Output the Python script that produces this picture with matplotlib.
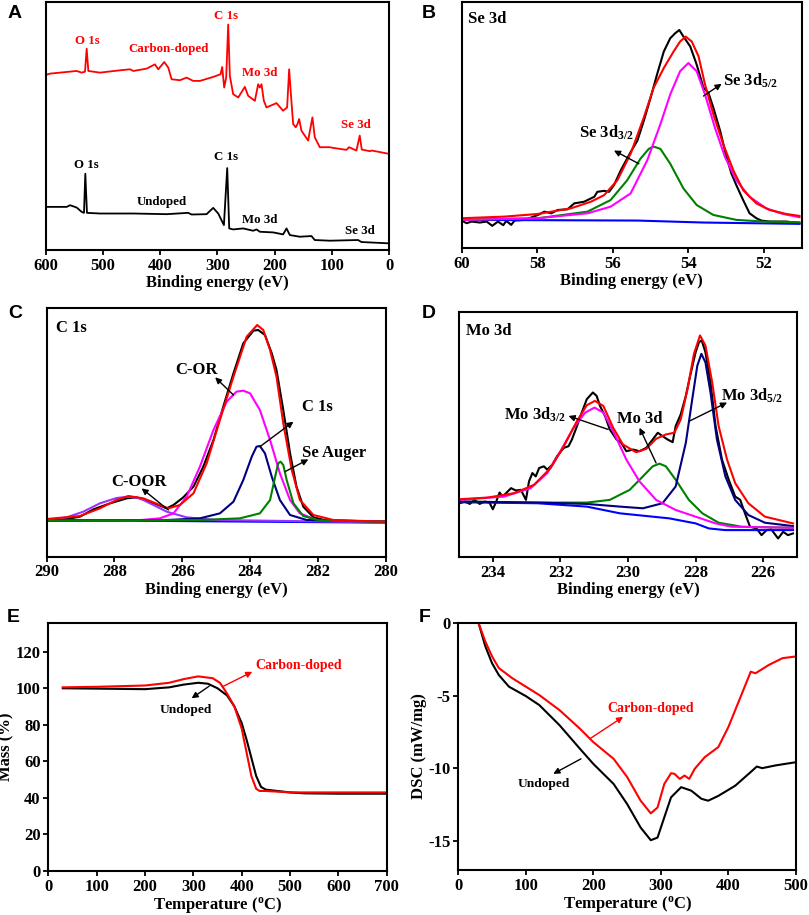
import matplotlib
matplotlib.use("Agg")
import matplotlib.pyplot as plt

plt.rcParams['font.family'] = ['Liberation Serif', 'DejaVu Serif']
plt.rcParams['font.weight'] = 'bold'
plt.rcParams['mathtext.fontset'] = 'custom'
plt.rcParams['mathtext.rm'] = 'Liberation Serif:bold'
plt.rcParams['mathtext.it'] = 'Liberation Serif:bold'
plt.rcParams['mathtext.bf'] = 'Liberation Serif:bold'
plt.rcParams['mathtext.default'] = 'rm'

# ---------------- A: survey spectra ----------------
a_red_x = [600.0, 592.4, 563.3, 545.9, 537.2, 531.3, 528.4, 525.5, 505.1, 470.2, 452.8, 446.9, 423.7,
           409.1, 403.3, 392.8, 385.8, 380.0, 365.5, 353.8, 342.2, 330.6, 307.3, 294.5, 291.6, 288.1,
           284.6, 281.1, 278.2, 272.4, 263.6, 252.0, 246.2, 234.5, 228.7, 225.8, 222.9, 218.8, 214.2,
           196.7, 185.1, 178.1, 174.6, 171.1, 167.6, 163.0, 160.0, 157.1, 153.1, 141.4, 133.9, 129.8,
           121.0, 103.6, 97.8, 74.5, 69.8, 57.0, 51.2, 47.7, 33.8, 30.3, 0.0]
a_red_y = [528, 532, 537, 540, 535, 538, 607, 540, 535, 542, 545, 540, 547,
           560, 545, 567, 550, 515, 512, 520, 510, 510, 522, 530, 552, 490,
           520, 680, 525, 470, 460, 492, 465, 450, 500, 490, 500, 450, 430,
           443, 420, 430, 545, 460, 380, 370, 380, 395, 360, 330, 400, 340,
           310, 310, 308, 302, 310, 300, 345, 303, 298, 300, 290]
a_blk_x = [600.0, 563.3, 557.5, 545.9, 537.2, 533.1, 530.8, 527.9, 505.1, 446.9, 388.7, 350.9, 345.1,
           318.9, 307.3, 298.5, 288.6, 282.8, 279.3, 272.4, 254.9, 237.4, 231.6, 225.8, 202.5, 185.1,
           179.2, 173.4, 156.0, 135.6, 129.8, 103.6, 54.1, 48.3, 0.0]
a_blk_y = [130, 130, 135, 128, 115, 112, 230, 112, 110, 110, 108, 112, 107,
           108, 127, 110, 75, 247, 65, 62, 65, 58, 62, 55, 53, 47,
           65, 45, 40, 42, 30, 28, 30, 24, 20]
a_red_labels = ['O 1s', 'Carbon-doped', 'C 1s', 'Mo 3d', 'Se 3d']
a_red_lab_x = [527.3, 385.8, 284.0, 225.8, 58.2]
a_red_lab_y = [630, 605, 705, 535, 378]
a_blk_labels = ['O 1s', 'C 1s', 'Undoped', 'Mo 3d', 'Se 3d']
a_blk_lab_x = [529.6, 284.0, 397.5, 225.8, 51.2]
a_blk_lab_y = [255, 280, 145, 90, 58]

# ---------------- B: Se 3d ----------------
b_raw_x = [60.00, 59.87, 59.74, 59.52, 59.34, 59.19, 59.04, 58.90, 58.82, 58.69, 58.60, 58.33, 57.98,
           57.81, 57.63, 57.46, 57.20, 57.02, 56.76, 56.49, 56.41, 56.23, 56.10, 55.97, 55.79, 55.53,
           55.35, 55.18, 55.00, 54.83, 54.65, 54.48, 54.35, 54.24, 54.13, 53.95, 53.78, 53.60, 53.47,
           53.34, 53.16, 52.99, 52.86, 52.73, 52.55, 52.38, 52.20, 52.07, 51.85, 51.41, 51.06]
b_raw_y = [83, 75, 80, 77, 80, 67, 80, 69, 82, 70, 83, 85, 100,
           110, 105, 115, 117, 135, 140, 155, 170, 173, 170, 190, 235, 290,
           325, 385, 455, 525, 595, 635, 650, 660, 640, 610, 555, 485, 470,
           425, 355, 275, 225, 190, 145, 105, 90, 83, 80, 80, 75]
b_fit_x = [60.00, 58.86, 57.98, 57.11, 56.58, 56.23, 55.88, 55.53, 55.18, 54.92, 54.65, 54.39, 54.22,
           54.07, 53.91, 53.73, 53.56, 53.34, 53.08, 52.81, 52.55, 52.20, 51.85, 51.41, 51.06]
b_fit_y = [90, 95, 103, 120, 140, 160, 205, 285, 395, 485, 545, 595, 625,
           640, 625, 580, 495, 405, 315, 235, 175, 135, 115, 103, 97]
b_p52_x = [60.00, 57.98, 56.67, 56.06, 55.53, 55.09, 54.74, 54.48, 54.22, 54.00, 53.78, 53.56, 53.30,
           53.03, 52.73, 52.38, 51.94, 51.50, 51.06]
b_p52_y = [85, 90, 105, 125, 165, 265, 375, 465, 535, 560, 535, 465, 365,
           275, 205, 155, 120, 103, 93]
b_p32_x = [60.00, 57.98, 56.67, 56.06, 55.62, 55.27, 55.05, 54.92, 54.74, 54.48, 54.13, 53.78, 53.34,
           52.73, 52.02, 51.06]
b_p32_y = [85, 90, 110, 145, 205, 270, 300, 307, 300, 255, 180, 130, 100,
           85, 80, 78]
b_bg_x = [60.00, 55.35, 53.60, 51.06]
b_bg_y = [85, 83, 77, 73]

# ---------------- C: C 1s ----------------
c_raw_x = [290.00, 289.41, 289.02, 288.62, 288.13, 287.64, 287.35, 286.95, 286.46, 286.26, 285.97,
           285.67, 285.38, 285.08, 284.79, 284.49, 284.20, 283.90, 283.76, 283.56, 283.36, 283.22,
           283.02, 282.82, 282.63, 282.43, 282.13, 281.74, 280.00]
c_raw_y = [110, 113, 120, 142, 160, 175, 178, 165, 145, 155, 178,
           210, 270, 350, 450, 550, 640, 678, 680, 665, 610, 560,
           440, 310, 210, 150, 118, 108, 105]
c_fit_x = [290.00, 289.02, 288.43, 287.94, 287.59, 287.15, 286.66, 286.41, 286.07, 285.67, 285.28,
           284.89, 284.49, 284.10, 283.79, 283.61, 283.41, 283.22, 283.02, 282.77, 282.53, 282.13,
           281.54, 280.00]
c_fit_y = [113, 122, 145, 170, 182, 175, 155, 145, 155, 190, 280,
           410, 540, 660, 695, 680, 620, 540, 400, 260, 170, 125,
           110, 105]
c_cor_x = [290.00, 287.44, 286.66, 286.26, 285.87, 285.48, 285.08, 284.69, 284.40, 284.20, 284.00,
           283.71, 283.41, 283.12, 282.82, 282.53, 282.04, 280.00]
c_cor_y = [108, 108, 115, 130, 180, 270, 380, 465, 495, 498, 490,
           440, 350, 250, 170, 130, 110, 105]
c_coor_x = [290.00, 289.41, 288.92, 288.43, 287.94, 287.59, 287.25, 286.85, 286.46, 285.87, 284.99, 280.00]
c_coor_y = [110, 118, 135, 160, 176, 180, 175, 155, 135, 118, 110, 103]
c_c1s_x = [290.00, 286.46, 285.48, 284.89, 284.49, 284.20, 283.95, 283.81, 283.71, 283.56, 283.36,
           283.12, 282.82, 282.33, 280.00]
c_c1s_y = [108, 110, 115, 130, 165, 230, 300, 330, 332, 310, 240,
           170, 125, 110, 105]
c_aug_x = [290.00, 285.48, 284.30, 283.71, 283.41, 283.26, 283.17, 283.10, 283.02, 282.92, 282.72,
           282.43, 281.94, 280.00]
c_aug_y = [108, 110, 115, 130, 170, 240, 280, 285, 275, 230, 160,
           122, 108, 105]
c_bg_x = [290.00, 280.00]
c_bg_y = [110, 102]

# ---------------- D: Mo 3d ----------------
d_raw_x = [234.98, 234.83, 234.68, 234.54, 234.39, 234.24, 234.10, 234.00, 233.90, 233.80, 233.71,
           233.56, 233.46, 233.32, 233.17, 233.02, 232.93, 232.83, 232.73, 232.63, 232.49, 232.39,
           232.24, 232.10, 231.90, 231.76, 231.66, 231.51, 231.37, 231.22, 231.04, 230.93, 230.83,
           230.68, 230.54, 230.34, 230.20, 230.05, 229.85, 229.66, 229.46, 229.27, 229.12, 228.98,
           228.83, 228.68, 228.59, 228.44, 228.29, 228.15, 228.00, 227.90, 227.82, 227.71, 227.56,
           227.41, 227.22, 227.02, 226.83, 226.68, 226.54, 226.39, 226.20, 226.05, 225.90, 225.76,
           225.56, 225.41, 225.27, 225.12]
d_raw_y = [160, 165, 158, 170, 158, 165, 162, 142, 165, 192, 180,
           195, 205, 198, 200, 170, 225, 250, 240, 265, 270, 260,
           275, 300, 325, 330, 350, 390, 430, 470, 490, 480, 450,
           420, 380, 350, 340, 315, 320, 315, 325, 350, 370, 360,
           350, 342, 390, 425, 480, 545, 610, 640, 645, 610, 520,
           390, 290, 230, 180, 170, 130, 90, 85, 65, 80, 82,
           55, 75, 65, 70]
d_fit_x = [234.98, 234.15, 233.37, 232.78, 232.29, 231.90, 231.51, 231.22, 230.98, 230.73, 230.44,
           230.15, 229.76, 229.46, 229.17, 228.88, 228.63, 228.44, 228.24, 228.05, 227.87, 227.71,
           227.51, 227.32, 227.07, 226.83, 226.44, 225.95, 225.12]
d_fit_y = [172, 177, 190, 215, 265, 330, 405, 452, 465, 450, 385,
           335, 312, 322, 352, 365, 370, 410, 500, 605, 660, 630,
           520, 390, 290, 220, 160, 120, 100]
d_p32_x = [234.98, 233.66, 232.88, 232.39, 232.00, 231.61, 231.27, 230.99, 230.73, 230.44, 230.05,
           229.66, 229.17, 228.59, 228.00, 227.41, 226.93, 225.12]
d_p32_y = [170, 180, 205, 250, 315, 385, 430, 445, 430, 375, 290,
           225, 170, 140, 120, 100, 90, 87]
d_mid_x = [234.98, 232.68, 231.22, 230.54, 229.95, 229.56, 229.27, 229.07, 228.88, 228.59, 228.20,
           227.80, 227.32, 226.63, 225.12]
d_mid_y = [165, 162, 162, 170, 200, 240, 270, 278, 270, 230, 170,
           130, 102, 90, 87]
d_p52_x = [234.98, 232.68, 231.22, 230.24, 229.56, 228.98, 228.59, 228.29, 228.10, 227.95, 227.83,
           227.71, 227.56, 227.37, 227.12, 226.83, 226.44, 225.95, 225.12]
d_p52_y = [165, 162, 158, 150, 145, 160, 210, 340, 470, 570, 605,
           580, 490, 350, 240, 170, 125, 102, 92]
d_bg_x = [234.98, 232.68, 231.22, 230.24, 228.78, 228.00, 227.61, 227.12, 225.12]
d_bg_y = [163, 160, 150, 130, 115, 100, 85, 80, 80]

# ---------------- E: TGA ----------------
e_und_t = [30, 100, 200, 250, 280, 310, 330, 350, 370, 385, 400, 410, 420, 430, 440, 450, 500, 530, 600, 700]
e_und_m = [100, 99.8, 99.5, 100.5, 102, 103, 102.5, 100, 96, 90, 81, 72, 62, 52, 46, 44.5, 43, 42.5, 42.3, 42.3]
e_cd_t = [30, 100, 200, 250, 280, 310, 340, 355, 370, 385, 400, 410, 420, 430, 437, 450, 500, 600, 700]
e_cd_m = [100.5, 100.8, 101.5, 103, 105, 106.5, 105.5, 103, 97, 90, 78, 65, 52, 45, 43.8, 43.8, 43, 43, 43]

# ---------------- F: DSC ----------------
f_und_t = [30, 40, 50, 60, 75, 100, 120, 150, 180, 200, 230, 250, 270, 285, 295, 305, 315, 330,
           345, 360, 370, 385, 410, 430, 442, 450, 470, 500]
f_und_d = [0, -1.6, -2.77, -3.58, -4.38, -5.03, -5.65, -7.04, -8.65, -9.7, -11.08, -12.46, -14.08,
           -14.95, -14.77, -13.38, -12.0, -11.3, -11.54, -12.1, -12.23, -11.9, -11.2, -10.38, -9.88,
           -9.99, -9.8, -9.58]
f_cd_t = [30, 40, 50, 60, 80, 100, 120, 150, 180, 200, 230, 250, 270, 285, 295, 305, 315, 320, 328,
          335, 342, 350, 365, 385, 400, 420, 433, 440, 460, 480, 500]
f_cd_d = [0, -1.27, -2.3, -3.1, -3.8, -4.38, -4.96, -6.0, -7.27, -8.2, -9.35, -10.6, -12.23, -13.1,
          -12.7, -11.08, -10.34, -10.38, -10.73, -10.5, -10.73, -10.04, -9.23, -8.54, -7.15, -4.85,
          -3.35, -3.46, -2.88, -2.42, -2.3]

RED = '#ff0000'
MAG = '#ff00ff'
GRN = '#008000'
NAVY = '#000080'
BLUE = '#0000ff'
VIO = '#9933ff'
LW = 1.5


def style(ax, yticks=False):
    for s in ax.spines.values():
        s.set_linewidth(1.5)
    ax.tick_params(direction='out', length=3.5, width=1.3, pad=2, labelsize=12, top=False, right=False)
    if not yticks:
        ax.set_yticks([])
    for lab in ax.get_xticklabels() + ax.get_yticklabels():
        lab.set_fontweight('bold')


def arrow(ax, tail, head, color='black'):
    ax.annotate('', xy=head, xytext=tail,
                arrowprops=dict(arrowstyle='-|>', color=color, lw=1.0, mutation_scale=9,
                                shrinkA=0, shrinkB=0))


fig = plt.figure(figsize=(8.09, 9.15), dpi=100)

# A
ax = fig.add_axes([0.0565, 0.7268, 0.4244, 0.2710])
ax.plot(a_red_x, a_red_y, color=RED, lw=1.3)
ax.plot(a_blk_x, a_blk_y, color='black', lw=1.3)
for t, x, y in zip(a_red_labels, a_red_lab_x, a_red_lab_y):
    ax.text(x, y, t, color=RED, fontsize=9.3, fontweight='bold', ha='center', va='center')
for t, x, y in zip(a_blk_labels, a_blk_lab_x, a_blk_lab_y):
    ax.text(x, y, t, color='black', fontsize=9.3, fontweight='bold', ha='center', va='center')
ax.set_xlim(600, 0)
ax.set_ylim(0, 748)
ax.set_xticks([600, 500, 400, 300, 200, 100, 0])
ax.set_xlabel('Binding energy (eV)', fontsize=12, fontweight='bold', labelpad=1)
style(ax)

# B
ax = fig.add_axes([0.5707, 0.7290, 0.4203, 0.2689])
ax.plot(b_raw_x, b_raw_y, color='black', lw=LW)
ax.plot(b_bg_x, b_bg_y, color=BLUE, lw=LW)
ax.plot(b_p32_x, b_p32_y, color=GRN, lw=LW)
ax.plot(b_p52_x, b_p52_y, color=MAG, lw=LW)
ax.plot(b_fit_x, b_fit_y, color=RED, lw=LW)
ax.text(0.02, 0.965, 'Se 3d', transform=ax.transAxes, fontsize=12, fontweight='bold', va='top', ha='left')
ax.text(56.89, 350, 'Se 3d$_{3/2}$', fontsize=12, fontweight='bold', va='center', ha='left')
arrow(ax, (55.31, 255), (55.97, 295))
ax.text(53.08, 505, 'Se 3d$_{5/2}$', fontsize=12, fontweight='bold', va='center', ha='left')
arrow(ax, (53.60, 460), (53.12, 497))
ax.set_xlim(60, 51)
ax.set_ylim(0, 745)
ax.set_xticks([60, 58, 56, 54, 52])
ax.set_xlabel('Binding energy (eV)', fontsize=12, fontweight='bold', labelpad=1)
style(ax)

# C
ax = fig.add_axes([0.0577, 0.3916, 0.4190, 0.2718])
ax.plot(c_raw_x, c_raw_y, color='black', lw=LW)
ax.plot(c_bg_x, c_bg_y, color=BLUE, lw=LW)
ax.plot(c_coor_x, c_coor_y, color=VIO, lw=LW)
ax.plot(c_cor_x, c_cor_y, color=MAG, lw=LW)
ax.plot(c_c1s_x, c_c1s_y, color=NAVY, lw=LW)
ax.plot(c_aug_x, c_aug_y, color=GRN, lw=LW)
ax.plot(c_fit_x, c_fit_y, color=RED, lw=LW)
ax.text(0.027, 0.952, 'C 1s', transform=ax.transAxes, fontsize=12, fontweight='bold', va='top', ha='left')
ax.text(285.58, 560, 'C-OR', fontsize=12, fontweight='bold', va='center', ha='center')
arrow(ax, (284.49, 485), (285.03, 538))
ax.text(282.48, 450, 'C 1s', fontsize=12, fontweight='bold', va='center', ha='left')
arrow(ax, (283.71, 330), (282.72, 405))
ax.text(282.48, 310, 'Se Auger', fontsize=12, fontweight='bold', va='center', ha='left')
arrow(ax, (282.97, 255), (282.28, 292))
ax.text(287.27, 225, 'C-OOR', fontsize=12, fontweight='bold', va='center', ha='center')
arrow(ax, (286.41, 140), (287.20, 205))
ax.set_xlim(290, 280)
ax.set_ylim(0, 746)
ax.set_xticks([290, 288, 286, 284, 282, 280])
ax.set_xlabel('Binding energy (eV)', fontsize=12, fontweight='bold', labelpad=1)
style(ax)

# D
ax = fig.add_axes([0.5674, 0.3913, 0.4178, 0.2678])
ax.plot(d_raw_x, d_raw_y, color='black', lw=LW)
ax.plot(d_bg_x, d_bg_y, color=BLUE, lw=LW)
ax.plot(d_mid_x, d_mid_y, color=GRN, lw=LW)
ax.plot(d_p52_x, d_p52_y, color=NAVY, lw=LW)
ax.plot(d_p32_x, d_p32_y, color=MAG, lw=LW)
ax.plot(d_fit_x, d_fit_y, color=RED, lw=LW)
ax.text(0.02, 0.955, 'Mo 3d', transform=ax.transAxes, fontsize=12, fontweight='bold', va='top', ha='left')
ax.text(233.66, 425, 'Mo 3d$_{3/2}$', fontsize=12, fontweight='bold', va='center', ha='left')
arrow(ax, (230.59, 380), (231.76, 420))
ax.text(230.34, 412, 'Mo 3d', fontsize=12, fontweight='bold', va='center', ha='left')
arrow(ax, (229.17, 280), (229.66, 385))
ax.text(227.24, 480, 'Mo 3d$_{5/2}$', fontsize=12, fontweight='bold', va='center', ha='left')
arrow(ax, (228.18, 405), (227.07, 460))
ax.set_xlim(235, 225)
ax.set_ylim(0, 730)
ax.set_xticks([234, 232, 230, 228, 226])
ax.set_xlabel('Binding energy (eV)', fontsize=12, fontweight='bold', labelpad=1)
style(ax)

# E
ax = fig.add_axes([0.0597, 0.0481, 0.4183, 0.2710])
ax.plot(e_und_t, e_und_m, color='black', lw=LW)
ax.plot(e_cd_t, e_cd_m, color=RED, lw=LW)
ax.text(427.6, 112.7, 'Carbon-doped', color=RED, fontsize=10, fontweight='bold', va='center', ha='left')
arrow(ax, (360.7, 100.9), (422, 109), color=RED)
ax.text(231, 88.1, 'Undoped', fontsize=9.6, fontweight='bold', va='center', ha='left')
arrow(ax, (333, 101.2), (296.5, 94.5))
ax.set_xlim(0, 700)
ax.set_ylim(0, 135.7)
ax.set_xticks(range(0, 701, 100))
ax.set_yticks(range(0, 121, 20))
ax.set_xlabel('Temperature ($^{\\rm o}$C)', fontsize=12, fontweight='bold', labelpad=0)
ax.set_ylabel('Mass (%)', fontsize=12, fontweight='bold', labelpad=1)
style(ax, yticks=True)

# F
ax = fig.add_axes([0.5665, 0.0492, 0.4174, 0.2699])
ax.plot(f_und_t, f_und_d, color='black', lw=LW)
ax.plot(f_cd_t, f_cd_d, color=RED, lw=LW)
ax.text(221, -5.88, 'Carbon-doped', color=RED, fontsize=10, fontweight='bold', va='center', ha='left')
arrow(ax, (195, -7.96), (244, -6.46), color=RED)
ax.text(87.9, -11.08, 'Undoped', fontsize=9.6, fontweight='bold', va='center', ha='left')
arrow(ax, (181.6, -9.35), (140.7, -10.38))
ax.set_xlim(0, 500)
ax.set_ylim(-17, 0)
ax.set_xticks(range(0, 501, 100))
ax.set_yticks([0, -5, -10, -15])
ax.set_yticklabels(['0', '-5', '-10', '-15'])
ax.set_xlabel('Temperature ($^{\\rm o}$C)', fontsize=12, fontweight='bold', labelpad=0)
ax.set_ylabel('DSC (mW/mg)', fontsize=12, fontweight='bold', labelpad=1)
style(ax, yticks=True)

# panel letters
letters = ['A', 'B', 'C', 'D', 'E', 'F']
letter_px = [(15, 14), (429, 14), (15, 314), (429, 313), (13, 618), (425, 618)]
for lt, (px, py) in zip(letters, letter_px):
    fig.text(px / 809, 1 - py / 915, lt, fontsize=14, fontweight='bold',
             family=['Liberation Sans', 'DejaVu Sans'], ha='center', va='center')

fig.savefig('out.png', dpi=100)
